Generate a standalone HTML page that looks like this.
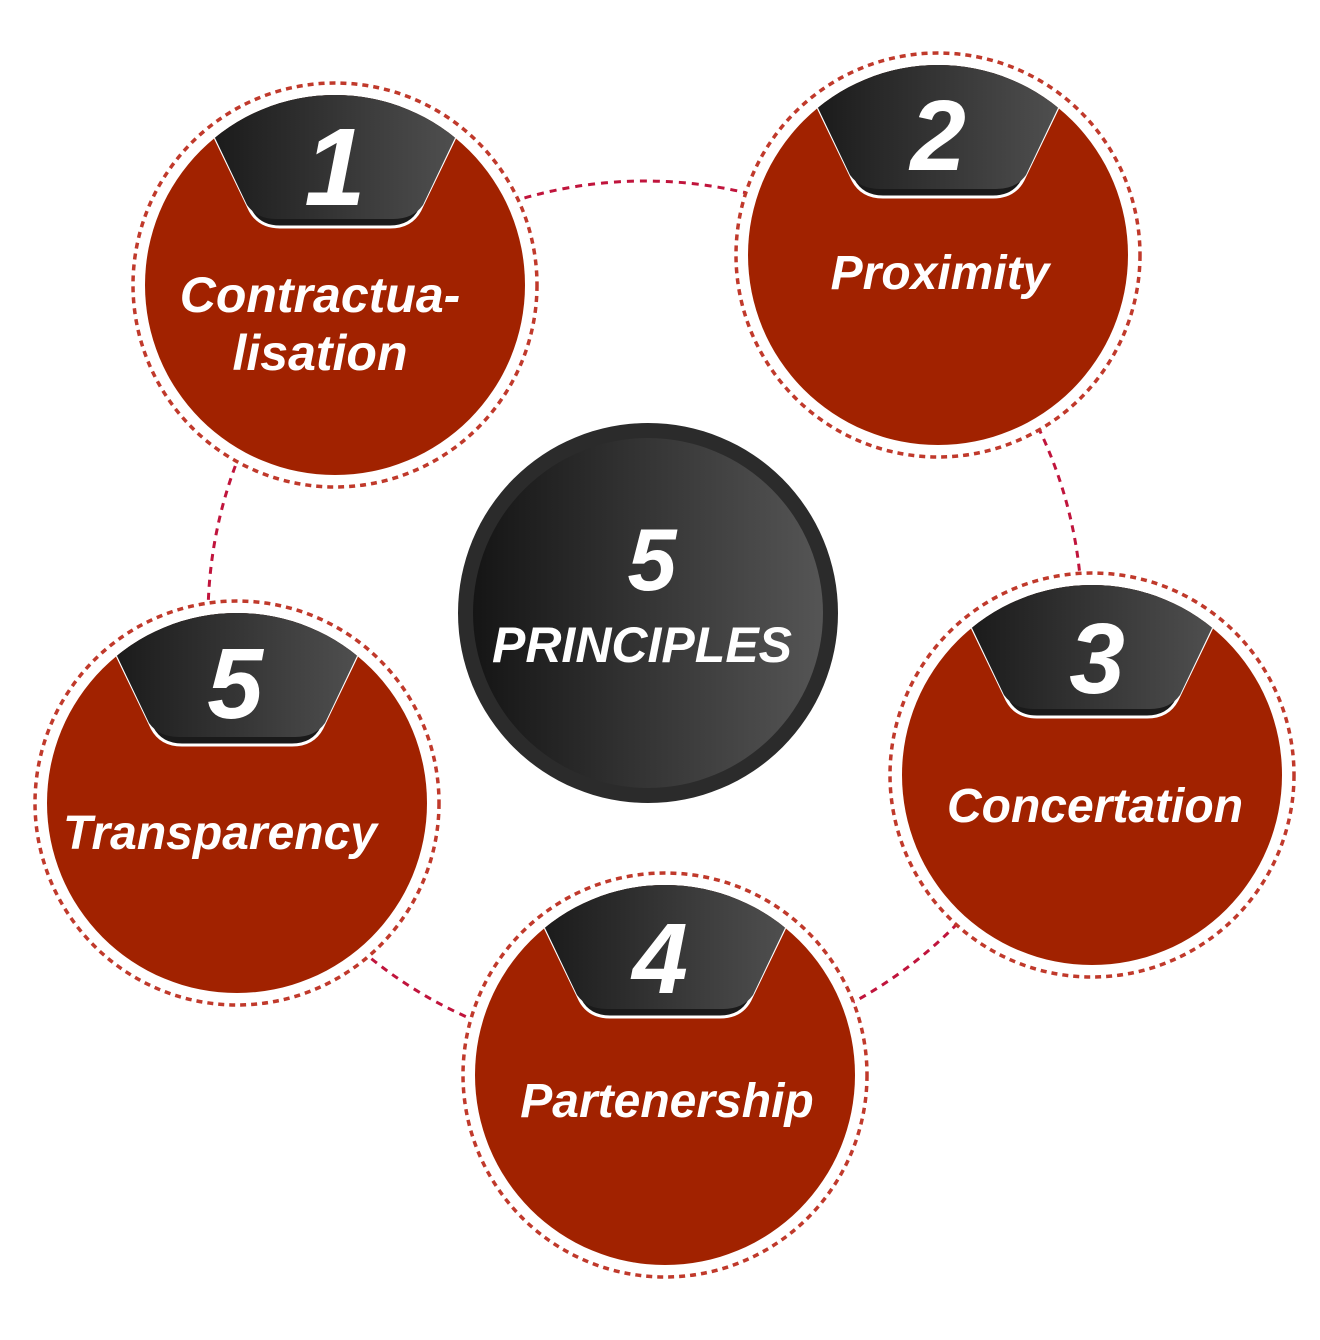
<!DOCTYPE html>
<html><head><meta charset="utf-8"><style>
html,body{margin:0;padding:0;background:#fff;}
svg{display:block}
text{font-family:"Liberation Sans",sans-serif;font-weight:bold;font-style:italic;fill:#fff;text-anchor:middle}
</style></head><body>
<svg width="1320" height="1340" viewBox="0 0 1320 1340" xmlns="http://www.w3.org/2000/svg">
<defs>
<linearGradient id="dg" x1="0" y1="0" x2="1" y2="0">
<stop offset="0" stop-color="#151515"/><stop offset="1" stop-color="#555"/>
</linearGradient>
<clipPath id="cc"><circle cx="0" cy="0" r="190"/></clipPath>
<g id="node">
<circle r="202" fill="#fff" stroke="#c0392b" stroke-width="3.5" stroke-dasharray="6 5"/>
<circle r="190" fill="#a12200"/>
<g clip-path="url(#cc)">
<path d="M -150,-210 L -85,-75 Q -76,-58 -55,-58 L 55,-58 Q 76,-58 85,-75 L 150,-210 Z" fill="#1a1a1a" stroke="#fff" stroke-width="3"/>
<path d="M -150,-210 L -88,-80 Q -78,-66 -58,-66 L 58,-66 Q 78,-66 88,-80 L 150,-210 Z" fill="url(#dg)"/>
</g>
</g>
</defs>
<circle cx="645" cy="618" r="437" fill="none" stroke="#c0143c" stroke-width="3" stroke-dasharray="7 6"/>

<circle cx="648" cy="613" r="190" fill="#2b2b2b"/>
<circle cx="648" cy="613" r="175" fill="url(#dg)"/>
<text x="652" y="590" font-size="88">5</text>
<text x="642" y="662" font-size="50">PRINCIPLES</text>

<g transform="translate(335,285)"><use href="#node"/>
<text x="0" y="-80" font-size="110">1</text>
<text x="-15" y="27" font-size="50">Contractua-</text>
<text x="-15" y="85" font-size="50">lisation</text></g>

<g transform="translate(938,255)"><use href="#node"/>
<text x="0" y="-85" font-size="100">2</text>
<text x="2" y="34" font-size="48">Proximity</text></g>

<g transform="translate(1092,775)"><use href="#node"/>
<text x="5" y="-82" font-size="100">3</text>
<text x="3" y="47" font-size="48">Concertation</text></g>

<g transform="translate(665,1075)"><use href="#node"/>
<text x="-5" y="-82" font-size="100">4</text>
<text x="2" y="42" font-size="48">Partenership</text></g>

<g transform="translate(237,803)"><use href="#node"/>
<text x="-2" y="-85" font-size="100">5</text>
<text x="-17" y="46" font-size="48">Transparency</text></g>
</svg>
</body></html>
